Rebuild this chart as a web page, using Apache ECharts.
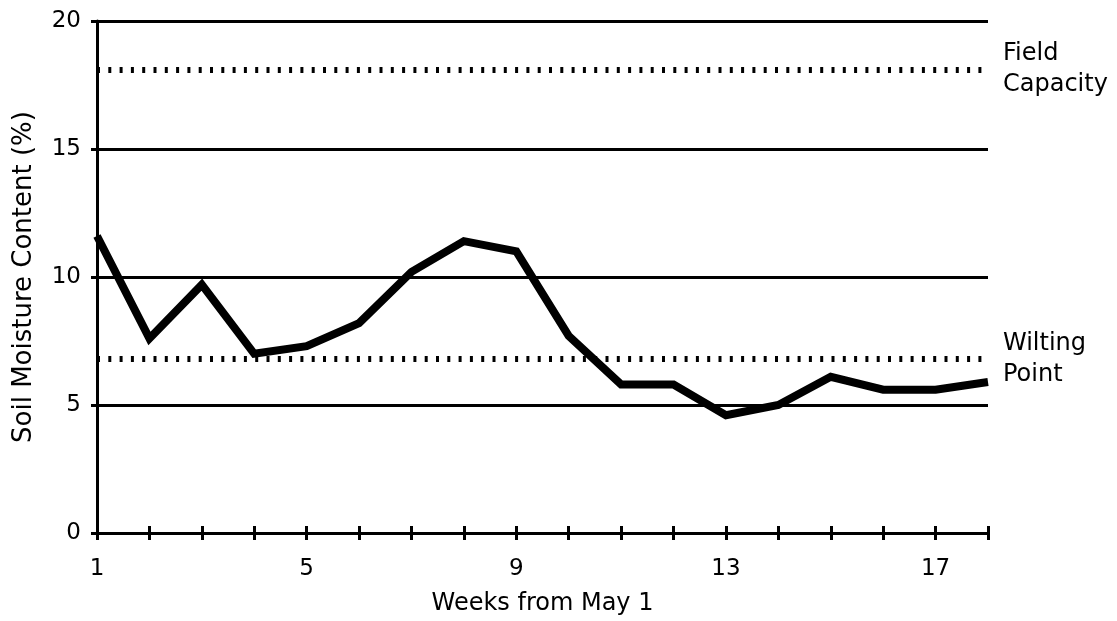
<!DOCTYPE html>
<html>
<head>
<meta charset="utf-8">
<script src="https://cdn.jsdelivr.net/npm/echarts@6/dist/echarts.min.js"></script>
<style>
  html, body { margin: 0; padding: 0; background: #ffffff; }
  #chart { width: 1117px; height: 621px; }
</style>
</head>
<body>
<div id="chart"></div>
<script>
// ---- data ----
const weeks = [1, 2, 3, 4, 5, 6, 7, 8, 9, 10, 11, 12, 13, 14, 15, 16, 17, 18];
const moisture = [11.6, 7.6, 9.7, 7.0, 7.3, 8.2, 10.2, 11.4, 11.0, 7.7, 5.8, 5.8, 4.6, 5.0, 6.1, 5.6, 5.6, 5.9];
const xLabelWeeks = [1, 5, 9, 13, 17];
const refValues = [18.1, 6.8];
const refLabels = ['Field\nCapacity', 'Wilting\nPoint'];
const xTitle = 'Weeks from May 1';
const yTitle = 'Soil Moisture Content (%)';

const FONT = 'DejaVu Sans';
const chart = echarts.init(document.getElementById('chart'), null, { renderer: 'canvas' });

const seriesData = weeks.map((w, i) => [w, moisture[i]]);

chart.setOption({
  backgroundColor: '#ffffff',
  animation: false,
  grid: { left: 97, right: 129, top: 21, bottom: 86, containLabel: false },
  xAxis: [
    {
      type: 'value', position: 'bottom', min: 1, max: 18, interval: 1,
      name: xTitle, nameLocation: 'middle', nameGap: 59,
      nameTextStyle: { fontFamily: FONT, fontSize: 24, color: '#000' },
      axisLine: { show: true, lineStyle: { color: '#000', width: 3 } },
      axisTick: { show: true, inside: false, length: 7, lineStyle: { color: '#000', width: 3 } },
      axisLabel: {
        margin: 25, fontFamily: FONT, fontSize: 23, color: '#000',
        formatter: v => (xLabelWeeks.indexOf(v) >= 0 ? String(v) : '')
      },
      splitLine: { show: false }
    },
    {
      type: 'value', position: 'bottom', min: 1, max: 18, interval: 1,
      axisLine: { show: false },
      axisTick: { show: true, inside: true, length: 7, lineStyle: { color: '#000', width: 3 } },
      axisLabel: { show: false },
      splitLine: { show: false }
    }
  ],
  yAxis: {
    type: 'value', min: 0, max: 20, interval: 5,
    name: yTitle, nameLocation: 'middle', nameGap: 60, nameRotate: 90,
    nameTextStyle: { fontFamily: FONT, fontSize: 26, color: '#000' },
    axisLine: { show: true, lineStyle: { color: '#000', width: 3 } },
    axisTick: { show: true, inside: false, length: 6, lineStyle: { color: '#000', width: 3 } },
    axisLabel: { margin: 16, fontFamily: FONT, fontSize: 23, color: '#000' },
    splitLine: { show: true, lineStyle: { color: '#000', width: 3 } }
  },
  series: [
    {
      type: 'line',
      data: seriesData,
      showSymbol: false,
      symbol: 'none',
      lineStyle: { color: '#000', width: 8, join: 'miter' },
      z: 3,
      markLine: {
        silent: true,
        symbol: ['none', 'none'],
        lineStyle: { color: '#000', width: 6, type: [3, 8.3], opacity: 1 },
        label: {
          show: true, position: 'end', distance: 15,
          fontFamily: FONT, fontSize: 24, lineHeight: 31, color: '#000', align: 'left'
        },
        data: refValues.map((v, i) => ({ yAxis: v, label: { formatter: refLabels[i] } }))
      }
    }
  ]
});
</script>
</body>
</html>
